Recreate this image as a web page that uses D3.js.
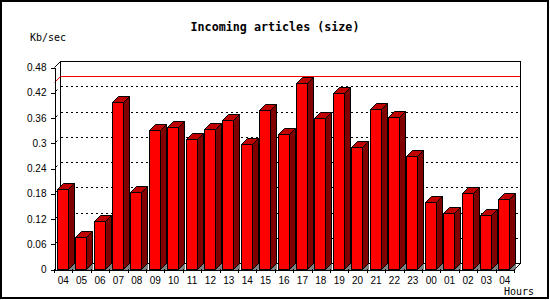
<!DOCTYPE html>
<html>
<head>
    <meta charset="utf-8">
    <style>
        body { margin: 0; background: white; }
        svg { display: block; font-family: "DejaVu Sans Mono", monospace; }
        .tick text { font-size: 10px; fill: black; }
    </style>
</head>
<body>
    <svg width="550" height="300"></svg>

<script src="https://d3js.org/d3.v7.min.js"></script>
<script>
    // hours (x labels), size per hour in Kb/sec, y tick values
    let hours = ["04", "05", "06", "07", "08", "09", "10", "11", "12", "13", "14", "15", "16",
        "17", "18", "19", "20", "21", "22", "23", "00", "01", "02", "03", "04"]
    let sizes = [0.190, 0.077, 0.113, 0.398, 0.182, 0.330, 0.337, 0.308, 0.332, 0.353, 0.296, 0.377, 0.320,
        0.442, 0.358, 0.418, 0.289, 0.380, 0.361, 0.268, 0.159, 0.132, 0.181, 0.128, 0.166]
    let yTicks = [0, 0.06, 0.12, 0.18, 0.24, 0.3, 0.36, 0.42, 0.48]
    let peak = 0.444 // red max line

    let plotLeft = 54, plotRight = 514, plotBottom = 269, plotTop = 67
    let depth = 6

    let svg = d3.select("svg")

    let x = d3.scaleBand()
        .domain(d3.range(hours.length))
        .range([plotLeft, plotRight])

    let y = d3.scaleLinear()
        .domain([0, 0.48])
        .range([plotBottom, plotTop])

    // outer frame
    svg.append("rect")
        .attr("x", 1).attr("y", 1)
        .attr("width", 547).attr("height", 297)
        .style("fill", "white")
        .style("stroke", "black")
        .style("stroke-width", 2)

    svg.append("text")
        .attr("x", 275).attr("y", 31)
        .attr("text-anchor", "middle")
        .style("font-size", "11.7px")
        .style("font-weight", "bold")
        .text("Incoming articles (size)")

    svg.append("text")
        .attr("x", 30).attr("y", 41)
        .style("font-size", "10px")
        .text("Kb/sec")

    svg.append("text")
        .attr("x", 534).attr("y", 295)
        .attr("text-anchor", "end")
        .style("font-size", "10px")
        .text("Hours")

    // back wall
    svg.append("rect")
        .attr("x", plotLeft + depth + 0.5)
        .attr("y", plotTop - depth + 0.5)
        .attr("width", plotRight - plotLeft)
        .attr("height", plotBottom - plotTop)
        .style("fill", "white")
        .style("stroke", "black")
        .style("shape-rendering", "crispEdges")

    // side connectors
    let conn = [[plotLeft, plotTop], [plotRight, plotBottom]]
    svg.selectAll(".conn")
        .data(conn)
        .join("line")
        .attr("x1", d => d[0] + 0.5).attr("y1", d => d[1] + 0.5)
        .attr("x2", d => d[0] + depth + 0.5).attr("y2", d => d[1] - depth + 0.5)
        .style("stroke", "black")

    // dashed grid on back wall
    svg.selectAll(".grid")
        .data(yTicks.filter(v => v > 0 && v < 0.48))
        .join("line")
        .attr("x1", plotLeft + depth + 1)
        .attr("x2", plotRight + depth)
        .attr("y1", d => Math.round(y(d)) - depth + 0.5)
        .attr("y2", d => Math.round(y(d)) - depth + 0.5)
        .style("stroke", "black")
        .style("stroke-dasharray", "2,3")
        .style("shape-rendering", "crispEdges")

    // max line
    let py = Math.round(y(peak))
    svg.append("line")
        .attr("x1", plotLeft + depth + 1).attr("x2", plotRight + depth)
        .attr("y1", py - depth + 0.5).attr("y2", py - depth + 0.5)
        .style("stroke", "red")
        .style("shape-rendering", "crispEdges")
    svg.append("line")
        .attr("x1", plotLeft + 0.5).attr("y1", py + 0.5)
        .attr("x2", plotLeft + depth + 0.5).attr("y2", py - depth + 0.5)
        .style("stroke", "red")

    // bars
    let bw = x.bandwidth() * 0.6
    let off = x.bandwidth() * 0.15

    let bars = svg.selectAll(".bar")
        .data(sizes)
        .join("g")
        .attr("class", "bar")

    bars.append("polygon")
        .attr("points", (d, i) => {
            let x1 = Math.round(x(i) + off + bw) + 0.5
            return [[x1, plotBottom + 0.5], [x1 + depth, plotBottom - depth + 0.5], [x1 + depth, plotBottom + 0.5]].join(" ")
        })
        .style("fill", "#808080")
        .style("stroke", "#404040")
        .style("stroke-width", 0.5)

    bars.append("polygon")
        .attr("points", (d, i) => {
            let x1 = Math.round(x(i) + off + bw) + 0.5
            let yt = Math.round(y(d)) + 0.5
            return [[x1, yt], [x1 + depth, yt - depth], [x1 + depth, plotBottom - depth + 0.5], [x1, plotBottom + 0.5]].join(" ")
        })
        .style("fill", "#800000")
        .style("stroke", "black")

    bars.append("polygon")
        .attr("points", (d, i) => {
            let x0 = Math.round(x(i) + off) + 0.5
            let x1 = Math.round(x(i) + off + bw) + 0.5
            let yt = Math.round(y(d)) + 0.5
            return [[x0, yt], [x0 + depth, yt - depth], [x1 + depth, yt - depth], [x1, yt]].join(" ")
        })
        .style("fill", "#c00000")
        .style("stroke", "black")

    bars.append("rect")
        .attr("x", (d, i) => Math.round(x(i) + off) + 0.5)
        .attr("y", d => Math.round(y(d)) + 0.5)
        .attr("width", Math.round(bw))
        .attr("height", d => plotBottom - Math.round(y(d)))
        .style("fill", "red")
        .style("stroke", "black")
        .style("shape-rendering", "crispEdges")

    // y axis
    let yAxis = svg.append("g")
        .attr("transform", "translate(" + (plotLeft + 0.5) + ",0.5)")
        .call(d3.axisLeft(y)
            .tickValues(yTicks)
            .tickSize(4)
            .tickPadding(4)
            .tickFormat(d => String(+d.toFixed(2))))
    yAxis.select(".domain").style("shape-rendering", "crispEdges")
    yAxis.selectAll(".tick line").style("shape-rendering", "crispEdges")

    // small slanted stubs at each y tick
    svg.selectAll(".stub")
        .data(yTicks.filter(v => v > 0 && v < 0.48))
        .join("line")
        .attr("x1", plotLeft + 1.5).attr("y1", d => Math.round(y(d)) - 0.5)
        .attr("x2", plotLeft + 3.5).attr("y2", d => Math.round(y(d)) - 2.5)
        .style("stroke", "black")

    // x axis
    let xAxis = svg.append("g")
        .attr("transform", "translate(0," + (plotBottom + 0.5) + ")")
        .call(d3.axisBottom(x)
            .tickSize(0)
            .tickPadding(7)
            .tickFormat(i => hours[i]))
    xAxis.select(".domain").style("shape-rendering", "crispEdges")

    // ticks at band boundaries
    let edges = d3.range(hours.length + 1).map(i => i < hours.length ? x(i) : plotRight)
    svg.selectAll(".xtick")
        .data(edges)
        .join("line")
        .attr("x1", d => Math.round(d) + 0.5).attr("x2", d => Math.round(d) + 0.5)
        .attr("y1", plotBottom).attr("y2", plotBottom + 4)
        .style("stroke", "black")
        .style("shape-rendering", "crispEdges")
</script>
</body>
</html>
